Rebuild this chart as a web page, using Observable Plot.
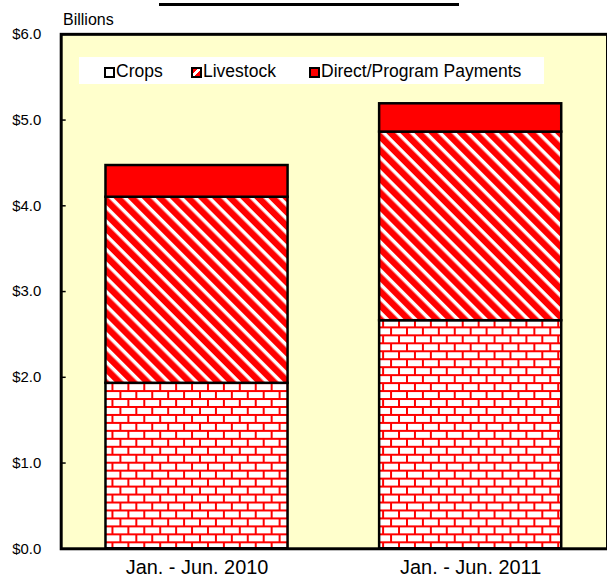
<!DOCTYPE html>
<html><head><meta charset="utf-8">
<script src="https://cdn.jsdelivr.net/npm/d3@7"></script>
<script src="https://cdn.jsdelivr.net/npm/@observablehq/plot@0.6"></script>
<style>
body{margin:0;background:#fff;font-family:"Liberation Sans",Arial,sans-serif;}
#wrap{position:relative;width:607px;height:587px;overflow:hidden;}
.abs{position:absolute;white-space:nowrap;line-height:1;}
.sw{position:absolute;width:7px;height:7px;border:2px solid #000;}
</style></head><body><div id="wrap"></div>
<script>
const periods = ["Jan. - Jun. 2010", "Jan. - Jun. 2011"];
const series = ["Crops", "Livestock", "Direct/Program Payments"];
const crops = [1.93, 2.66];
const livestock = [2.17, 2.20];
const direct = [0.37, 0.33];
const yTicks = [0, 1, 2, 3, 4, 5, 6];
const unitLabel = "Billions";

const rows = [];
periods.forEach((p, i) => {
  rows.push({period: p, series: series[0], value: crops[i]});
  rows.push({period: p, series: series[1], value: livestock[i]});
  rows.push({period: p, series: series[2], value: direct[i]});
});

const chart = Plot.plot({
  width: 610, height: 587,
  marginLeft: 61, marginTop: 34, marginBottom: 36, marginRight: 0,
  style: {fontFamily: "'Liberation Sans', Arial, sans-serif", background: "transparent", color: "#000"},
  x: {domain: periods, paddingInner: 0.333, paddingOuter: 0.164, label: null},
  y: {domain: [0, 6], label: null},
  color: {domain: series, range: ["url(#brick)", "url(#diag)", "#FF0000"]},
  marks: [
    Plot.frame({fill: "#FFFFCC", stroke: null}),
    Plot.barY(rows, {x: "period", y: "value", fill: "series", stroke: "#000", strokeWidth: 2.5}),
    Plot.frame({stroke: "#000", strokeWidth: 3}),
    Plot.axisY({ticks: yTicks, tickFormat: d => "$" + d.toFixed(1), tickSize: -5, tickPadding: 25, strokeWidth: 1.5, fontSize: 15, label: null}),
    Plot.axisX({tickSize: 0, tickPadding: 11, fontSize: 20, label: null})
  ]
});

const defs = d3.select(chart).insert("defs", ":first-child");
const brick = defs.append("pattern").attr("id", "brick").attr("patternUnits", "userSpaceOnUse")
  .attr("width", 16).attr("height", 16);
brick.append("rect").attr("width", 16).attr("height", 16).attr("fill", "#fff");
brick.append("path").attr("d", "M0,1H16M0,9H16M1,1V9M9,9V17").attr("stroke", "#FF0000").attr("stroke-width", 2).attr("fill", "none");
const diag = defs.append("pattern").attr("id", "diag").attr("patternUnits", "userSpaceOnUse")
  .attr("width", 10).attr("height", 10).attr("patternTransform", "rotate(45)");
diag.append("rect").attr("width", 10).attr("height", 10).attr("fill", "#FF0000");
diag.append("rect").attr("width", 10).attr("height", 3.5).attr("fill", "#fff");

const wrap = document.getElementById("wrap");
wrap.appendChild(chart);
chart.style.position = "absolute"; chart.style.left = "0"; chart.style.top = "0";

function addDiv(cls, css, text) {
  const d = document.createElement("div");
  d.className = cls; d.style.cssText = css; if (text != null) d.textContent = text;
  wrap.appendChild(d); return d;
}
addDiv("abs", "left:159px;top:3px;width:300px;height:3px;background:#000;");
addDiv("abs", "left:63px;top:12px;font-size:16px;", unitLabel);
addDiv("abs", "left:79px;top:57px;width:465px;height:27px;background:#fff;");
const swFills = ["#fff", "linear-gradient(135deg,#f00 0 35%,#fff 35% 60%,#f00 60%)", "#FF0000"];
const swX = [104, 191, 309];
series.forEach((s, i) => {
  addDiv("sw", `left:${swX[i]}px;top:67px;background:${swFills[i]};`);
  addDiv("abs", `left:${swX[i] + 12}px;top:63px;font-size:17.5px;`, s);
});
</script></body></html>
